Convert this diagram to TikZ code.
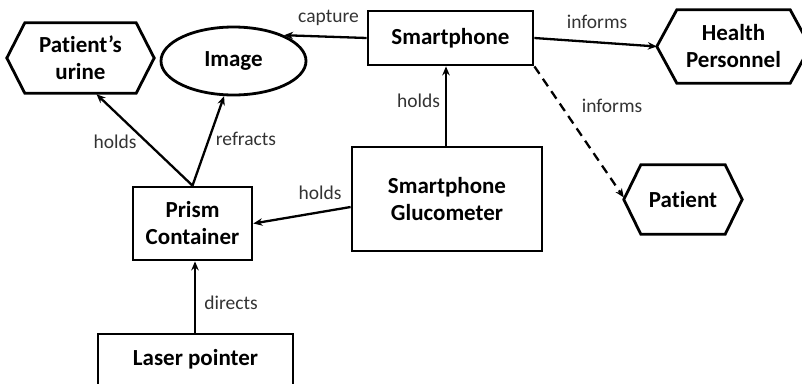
\documentclass[tikz,border=0pt]{standalone}
\usepackage{fontspec}
\setmainfont{Carlito}[RawFeature={-liga,-clig,-calt,-dlig}]
\usetikzlibrary{shapes.geometric,arrows.meta,calc}
\newcommand\hexout[2]{%
  \draw[hexline] (#1.west) -- ($(#1.north west)+(#2,0)$) -- ($(#1.north east)+(-#2,0)$) -- (#1.east)
    -- ($(#1.south east)+(-#2,0)$) -- ($(#1.south west)+(#2,0)$) -- cycle;}
\begin{document}
\begin{tikzpicture}[x=1pt,y=-1pt,
  nodefont/.style={font=\fontsize{23}{27}\selectfont\bfseries, align=center, inner sep=0pt},
  box/.style={nodefont, draw, line width=2.8pt},
  hexnode/.style={nodefont},
  hexline/.style={line width=2.8pt, line join=miter},
  lbl/.style={font=\fontsize{19.5}{24}\selectfont, text=black!80, inner sep=0pt},
  arr/.style={-{Stealth[length=9pt,width=7.5pt]}, line width=2.3pt}]
\useasboundingbox (0,0) rectangle (802,383);
\fill[white] (0,0) rectangle (802,383);

% nodes
\node[box, minimum width=165, minimum height=54] (sp) at (450.5,38) {Smartphone};
\node[box, minimum width=190, minimum height=104] (gl) at (447,199) {Smartphone\\Glucometer};
\node[box, minimum width=119, minimum height=73] (pc) at (192.5,223.5) {Prism\\Container};
\node[box, minimum width=195, minimum height=51] (lp) at (195.5,359.5) {Laser pointer};
\node[nodefont, ellipse, draw, line width=2.8pt, minimum width=145, minimum height=68] (img) at (233.5,61) {Image};
\node[hexnode, minimum width=147, minimum height=70] (ur) at (80.5,58) {Pat\kern0pt ient’s\\urine};
\node[hexnode, minimum width=153, minimum height=73] (hp) at (733.5,46.5) {Health\\Personnel};
\node[hexnode, minimum width=118, minimum height=69] (pt) at (683,199.5) {Pat\kern0pt ient};
\hexout{ur}{18}
\hexout{hp}{20}
\hexout{pt}{17}

% connectors
\draw[arr] (sp.west) -- (img.27);
\draw[arr] (sp.east) -- (hp.west);
\draw[arr, dashed, dash pattern=on 9pt off 6pt] (sp.south east) -- ($(pt.west)+(0,-2)$);
\draw[arr] (gl.north -| 446,0) -- (sp.south -| 446,0);
\draw[arr] (pc.north) -- ($(ur.south)+(16,1)$);
\draw[arr] (pc.north) -- (img.255);
\draw[arr] ($(gl.west)+(0,8)$) -- (pc.east);
\draw[arr] (lp.north -| 195,0) -- (pc.south -| 195,0);

% labels
\node[lbl] (l1) at (328.5,18) {capture};
\node[lbl] (l2) at (597,22) {informs};
\node[lbl] (l3) at (612,106) {informs};
\node[lbl] (l4) at (418.5,101) {holds};
\node[lbl] (l5) at (115,142) {holds};
\node[lbl] (l6) at (246,139) {refracts};
\node[lbl] (l7) at (320,193) {holds};
\node[lbl] (l8) at (231,303) {directs};
\end{tikzpicture}
\end{document}
